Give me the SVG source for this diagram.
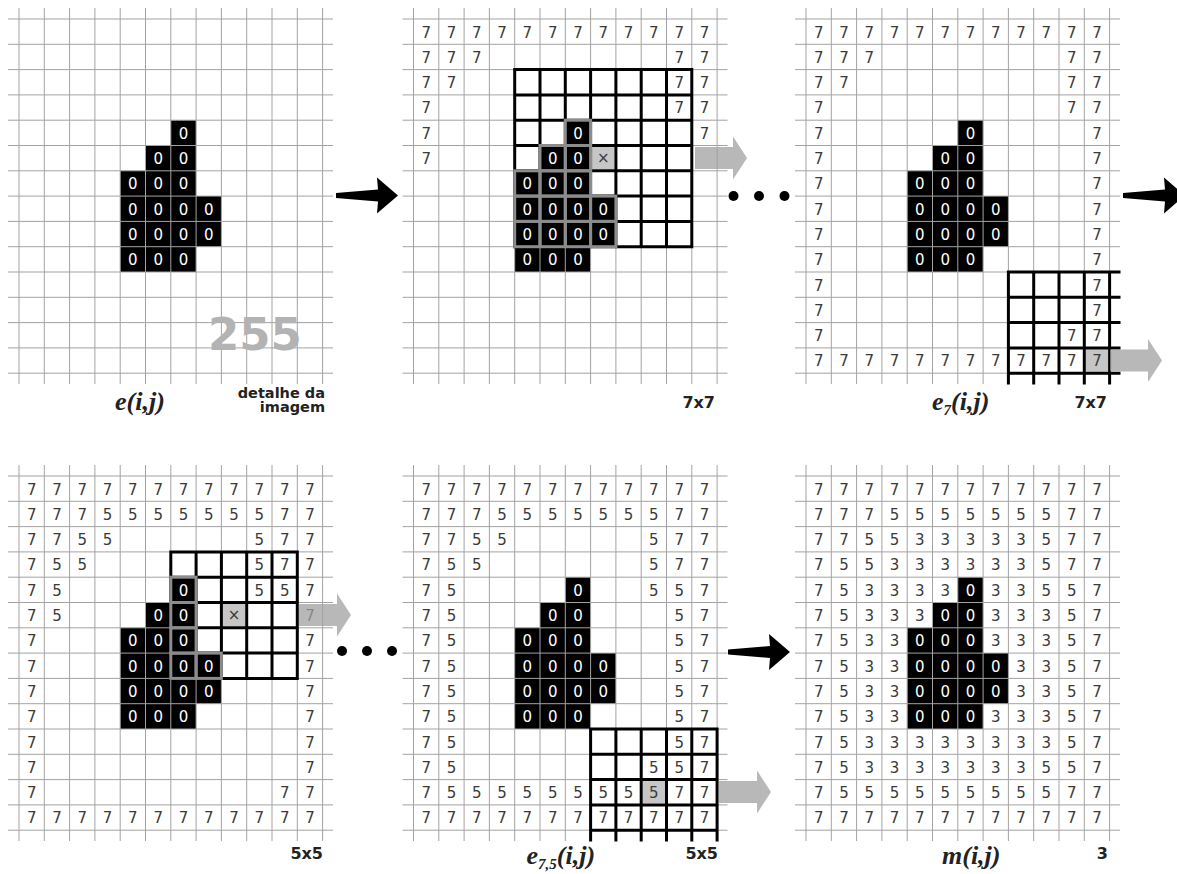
<svg xmlns="http://www.w3.org/2000/svg" xmlns:xlink="http://www.w3.org/1999/xlink" width="1177" height="874" viewBox="0 0 1177 874">
<defs>
<style>
.g{fill:none;stroke:#a3a3a3;stroke-width:1}
.w{fill:none;stroke:#000;stroke-width:3;stroke-linecap:square}
.gs{fill:none;stroke:#8c8c8c;stroke-width:3}
.n{font-family:"DejaVu Sans",Verdana,sans-serif;font-size:15px;fill:#3a3a3a;text-anchor:middle}
.z{font-family:"DejaVu Sans",Verdana,sans-serif;font-size:15px;fill:#fff;text-anchor:middle}
.lb{font-family:"DejaVu Sans",Verdana,sans-serif;font-weight:bold;font-size:14.5px;fill:#222;text-anchor:end}
.lb2{font-family:"DejaVu Sans",Verdana,sans-serif;font-weight:bold;font-size:16px;fill:#222;text-anchor:end}
.it{font-family:"Liberation Serif","Times New Roman",serif;font-style:italic;font-weight:bold;font-size:26px;fill:#222}
.obj{fill:#000}
.ctr{fill:#c6c6c6}
.wb{fill:#fff}
.ga{fill:#a0a0a0;opacity:.75}
.ba{fill:#000}
</style>
<path id="grid" class="g" d="M-11 0H314M-11 25.3H314M-11 50.6H314M-11 75.9H314M-11 101.2H314M-11 126.5H314M-11 151.8H314M-11 177.1H314M-11 202.4H314M-11 227.7H314M-11 253H314M-11 278.3H314M-11 303.6H314M-11 328.9H314M-11 354.2H314M0 -11V365M25.3 -11V365M50.6 -11V365M75.9 -11V365M101.2 -11V365M126.5 -11V365M151.8 -11V365M177.1 -11V365M202.4 -11V365M227.7 -11V365M253 -11V365M278.3 -11V365M303.6 -11V365"/>
<path id="obj" class="obj" d="M151.8 101.2H177.1V177.1H202.4V227.7H177.1V253H101.2V151.8H126.5V126.5H151.8Z"/>
<path id="garr" d="M0 -11H38V-21.5L52 0L38 21.5V11H0Z"/>
<path id="barr" d="M0 -2.5L42 -6L41 -18L62 0L41 18L42 6L0 2.5Z"/>
</defs>
<rect width="1177" height="874" fill="#fff"/>

<g id="panelA" transform="translate(19,19)">
<use href="#obj"/>
<use href="#grid"/>
<text class="z" x="164.45" y="119.7">0</text>
<text class="z" x="139.15 164.45" y="145">00</text>
<text class="z" x="113.85 139.15 164.45" y="170.3">000</text>
<text class="z" x="113.85 139.15 164.45 189.75" y="195.6">0000</text>
<text class="z" x="113.85 139.15 164.45 189.75" y="220.9">0000</text>
<text class="z" x="113.85 139.15 164.45" y="246.2">000</text>
<text x="189" y="331" style="font-family:'DejaVu Sans',Verdana,sans-serif;font-weight:bold;font-size:45px;fill:#b3b3b3">255</text>
<text class="it" x="96" y="391">e(i,j)</text>
<text class="lb" x="306" y="379">detalhe da</text>
<text class="lb" x="306" y="393">imagem</text>
</g>

<g id="panelB" transform="translate(413.5,19)">
<use href="#obj"/>
<use href="#grid"/>
<rect class="wb" x="101.2" y="50.6" width="177.1" height="177.1"/>
<path class="obj" d="M151.8 101.2H177.1V177.1H202.4V227.7H101.2V151.8H126.5V126.5H151.8Z"/>
<rect class="ctr" x="178.6" y="128" width="22.3" height="22.3"/>
<path class="w" d="M101.2 50.6V227.7M126.5 50.6V227.7M151.8 50.6V227.7M177.1 50.6V227.7M202.4 50.6V227.7M227.7 50.6V227.7M253 50.6V227.7M278.3 50.6V227.7M101.2 50.6H278.3M101.2 75.9H278.3M101.2 101.2H278.3M101.2 126.5H278.3M101.2 151.8H278.3M101.2 177.1H278.3M101.2 202.4H278.3M101.2 227.7H278.3"/>
<g class="gs">
<rect x="151.8" y="101.2" width="25.3" height="25.3"/>
<rect x="126.5" y="126.5" width="25.3" height="25.3"/><rect x="151.8" y="126.5" width="25.3" height="25.3"/>
<rect x="101.2" y="151.8" width="25.3" height="25.3"/><rect x="126.5" y="151.8" width="25.3" height="25.3"/><rect x="151.8" y="151.8" width="25.3" height="25.3"/>
<rect x="101.2" y="177.1" width="25.3" height="25.3"/><rect x="126.5" y="177.1" width="25.3" height="25.3"/><rect x="151.8" y="177.1" width="25.3" height="25.3"/><rect x="177.1" y="177.1" width="25.3" height="25.3"/>
<rect x="101.2" y="202.4" width="25.3" height="25.3"/><rect x="126.5" y="202.4" width="25.3" height="25.3"/><rect x="151.8" y="202.4" width="25.3" height="25.3"/><rect x="177.1" y="202.4" width="25.3" height="25.3"/>
</g>
<text class="n" x="189.75" y="144">×</text>
<text class="n" x="12.65 37.95 63.25 88.55 113.85 139.15 164.45 189.75 215.05 240.35 265.65 290.95" y="18.5">777777777777</text>
<text class="n" x="12.65 37.95 63.25" y="43.8">777</text><text class="n" x="265.65 290.95" y="43.8">77</text>
<text class="n" x="12.65 37.95" y="69.1">77</text><text class="n" x="265.65 290.95" y="69.1">77</text>
<text class="n" x="12.65" y="94.4">7</text><text class="n" x="265.65 290.95" y="94.4">77</text>
<text class="n" x="12.65" y="119.7">7</text><text class="n" x="290.95" y="119.7">7</text>
<text class="n" x="12.65" y="145">7</text>
<text class="z" x="164.45" y="119.7">0</text>
<text class="z" x="139.15 164.45" y="145">00</text>
<text class="z" x="113.85 139.15 164.45" y="170.3">000</text>
<text class="z" x="113.85 139.15 164.45 189.75" y="195.6">0000</text>
<text class="z" x="113.85 139.15 164.45 189.75" y="220.9">0000</text>
<text class="z" x="113.85 139.15 164.45" y="246.2">000</text>
<text class="lb2" x="301.5" y="389">7x7</text>
</g>

<g id="panelC" transform="translate(806,19)">
<use href="#obj"/>
<use href="#grid"/>
<rect class="wb" x="202.4" y="253" width="101.2" height="101.2"/>
<rect class="ctr" x="279.8" y="330.4" width="22.3" height="22.3"/>
<path class="w" d="M202.4 253V364M227.7 253V364M253 253V364M278.3 253V364M303.6 253V364M202.4 253H313M202.4 278.3H313M202.4 303.6H313M202.4 328.9H313M202.4 354.2H313"/>
<text class="n" x="12.65 37.95 63.25 88.55 113.85 139.15 164.45 189.75 215.05 240.35 265.65 290.95" y="18.5">777777777777</text>
<text class="n" x="12.65 37.95 63.25" y="43.8">777</text><text class="n" x="265.65 290.95" y="43.8">77</text>
<text class="n" x="12.65 37.95" y="69.1">77</text><text class="n" x="265.65 290.95" y="69.1">77</text>
<text class="n" x="12.65" y="94.4">7</text><text class="n" x="265.65 290.95" y="94.4">77</text>
<text class="n" x="12.65" y="119.7">7</text><text class="n" x="290.95" y="119.7">7</text>
<text class="n" x="12.65" y="145">7</text><text class="n" x="290.95" y="145">7</text>
<text class="n" x="12.65" y="170.3">7</text><text class="n" x="290.95" y="170.3">7</text>
<text class="n" x="12.65" y="195.6">7</text><text class="n" x="290.95" y="195.6">7</text>
<text class="n" x="12.65" y="220.9">7</text><text class="n" x="290.95" y="220.9">7</text>
<text class="n" x="12.65" y="246.2">7</text><text class="n" x="290.95" y="246.2">7</text>
<text class="n" x="12.65" y="271.5">7</text><text class="n" x="290.95" y="271.5">7</text>
<text class="n" x="12.65" y="296.8">7</text><text class="n" x="290.95" y="296.8">7</text>
<text class="n" x="12.65" y="322.1">7</text><text class="n" x="265.65 290.95" y="322.1">77</text>
<text class="n" x="12.65 37.95 63.25 88.55 113.85 139.15 164.45 189.75 215.05 240.35 265.65 290.95" y="347.4">777777777777</text>
<text class="z" x="164.45" y="119.7">0</text>
<text class="z" x="139.15 164.45" y="145">00</text>
<text class="z" x="113.85 139.15 164.45" y="170.3">000</text>
<text class="z" x="113.85 139.15 164.45 189.75" y="195.6">0000</text>
<text class="z" x="113.85 139.15 164.45 189.75" y="220.9">0000</text>
<text class="z" x="113.85 139.15 164.45" y="246.2">000</text>
<text class="it" x="126" y="391">e<tspan style="font-size:15px" dy="5">7</tspan><tspan dy="-5">(i,j)</tspan></text>
<text class="lb2" x="301" y="389">7x7</text>
</g>

<g id="panelD" transform="translate(19,476)">
<use href="#obj"/>
<use href="#grid"/>
<rect class="wb" x="151.8" y="75.9" width="126.5" height="126.5"/>
<path class="obj" d="M151.8 101.2H177.1V177.1H202.4V202.4H151.8Z"/>
<rect class="ctr" x="203.9" y="128" width="22.3" height="22.3"/>
<path class="w" d="M151.8 75.9V202.4M177.1 75.9V202.4M202.4 75.9V202.4M227.7 75.9V202.4M253 75.9V202.4M278.3 75.9V202.4M151.8 75.9H278.3M151.8 101.2H278.3M151.8 126.5H278.3M151.8 151.8H278.3M151.8 177.1H278.3M151.8 202.4H278.3"/>
<g class="gs">
<rect x="151.8" y="101.2" width="25.3" height="25.3"/><rect x="151.8" y="126.5" width="25.3" height="25.3"/><rect x="151.8" y="151.8" width="25.3" height="25.3"/><rect x="151.8" y="177.1" width="25.3" height="25.3"/><rect x="177.1" y="177.1" width="25.3" height="25.3"/>
</g>
<text class="n" x="215.05" y="144">×</text>
<text class="n" x="12.65 37.95 63.25 88.55 113.85 139.15 164.45 189.75 215.05 240.35 265.65 290.95" y="18.5">777777777777</text>
<text class="n" x="12.65 37.95 63.25 88.55 113.85 139.15 164.45 189.75 215.05 240.35 265.65 290.95" y="43.8">777555555577</text>
<text class="n" x="12.65 37.95 63.25 88.55" y="69.1">7755</text><text class="n" x="240.35 265.65 290.95" y="69.1">577</text>
<text class="n" x="12.65 37.95 63.25" y="94.4">755</text><text class="n" x="240.35 265.65 290.95" y="94.4">577</text>
<text class="n" x="12.65 37.95" y="119.7">75</text><text class="n" x="240.35 265.65 290.95" y="119.7">557</text>
<text class="n" x="12.65 37.95" y="145">75</text><text class="n" x="290.95" y="145">7</text>
<text class="n" x="12.65" y="170.3">7</text><text class="n" x="290.95" y="170.3">7</text>
<text class="n" x="12.65" y="195.6">7</text><text class="n" x="290.95" y="195.6">7</text>
<text class="n" x="12.65" y="220.9">7</text><text class="n" x="290.95" y="220.9">7</text>
<text class="n" x="12.65" y="246.2">7</text><text class="n" x="290.95" y="246.2">7</text>
<text class="n" x="12.65" y="271.5">7</text><text class="n" x="290.95" y="271.5">7</text>
<text class="n" x="12.65" y="296.8">7</text><text class="n" x="290.95" y="296.8">7</text>
<text class="n" x="12.65" y="322.1">7</text><text class="n" x="265.65 290.95" y="322.1">77</text>
<text class="n" x="12.65 37.95 63.25 88.55 113.85 139.15 164.45 189.75 215.05 240.35 265.65 290.95" y="347.4">777777777777</text>
<text class="z" x="164.45" y="119.7">0</text>
<text class="z" x="139.15 164.45" y="145">00</text>
<text class="z" x="113.85 139.15 164.45" y="170.3">000</text>
<text class="z" x="113.85 139.15 164.45 189.75" y="195.6">0000</text>
<text class="z" x="113.85 139.15 164.45 189.75" y="220.9">0000</text>
<text class="z" x="113.85 139.15 164.45" y="246.2">000</text>
<text class="lb2" x="304" y="383">5x5</text>
</g>

<g id="panelE" transform="translate(413.5,476)">
<use href="#obj"/>
<use href="#grid"/>
<rect class="wb" x="177.1" y="253" width="126.5" height="101.2"/>
<rect class="ctr" x="229.2" y="305.1" width="22.3" height="22.3"/>
<path class="w" d="M177.1 253V364M202.4 253V364M227.7 253V364M253 253V364M278.3 253V364M303.6 253V364M177.1 253H303.6M177.1 278.3H303.6M177.1 303.6H303.6M177.1 328.9H303.6M177.1 354.2H303.6"/>
<text class="n" x="12.65 37.95 63.25 88.55 113.85 139.15 164.45 189.75 215.05 240.35 265.65 290.95" y="18.5">777777777777</text>
<text class="n" x="12.65 37.95 63.25 88.55 113.85 139.15 164.45 189.75 215.05 240.35 265.65 290.95" y="43.8">777555555577</text>
<text class="n" x="12.65 37.95 63.25 88.55" y="69.1">7755</text><text class="n" x="240.35 265.65 290.95" y="69.1">577</text>
<text class="n" x="12.65 37.95 63.25" y="94.4">755</text><text class="n" x="240.35 265.65 290.95" y="94.4">577</text>
<text class="n" x="12.65 37.95" y="119.7">75</text><text class="n" x="240.35 265.65 290.95" y="119.7">557</text>
<text class="n" x="12.65 37.95" y="145">75</text><text class="n" x="265.65 290.95" y="145">57</text>
<text class="n" x="12.65 37.95" y="170.3">75</text><text class="n" x="265.65 290.95" y="170.3">57</text>
<text class="n" x="12.65 37.95" y="195.6">75</text><text class="n" x="265.65 290.95" y="195.6">57</text>
<text class="n" x="12.65 37.95" y="220.9">75</text><text class="n" x="265.65 290.95" y="220.9">57</text>
<text class="n" x="12.65 37.95" y="246.2">75</text><text class="n" x="265.65 290.95" y="246.2">57</text>
<text class="n" x="12.65 37.95" y="271.5">75</text><text class="n" x="265.65 290.95" y="271.5">57</text>
<text class="n" x="12.65 37.95" y="296.8">75</text><text class="n" x="240.35 265.65 290.95" y="296.8">557</text>
<text class="n" x="12.65 37.95 63.25 88.55 113.85 139.15 164.45 189.75 215.05 240.35 265.65 290.95" y="322.1">755555555577</text>
<text class="n" x="12.65 37.95 63.25 88.55 113.85 139.15 164.45 189.75 215.05 240.35 265.65 290.95" y="347.4">777777777777</text>
<text class="z" x="164.45" y="119.7">0</text>
<text class="z" x="139.15 164.45" y="145">00</text>
<text class="z" x="113.85 139.15 164.45" y="170.3">000</text>
<text class="z" x="113.85 139.15 164.45 189.75" y="195.6">0000</text>
<text class="z" x="113.85 139.15 164.45 189.75" y="220.9">0000</text>
<text class="z" x="113.85 139.15 164.45" y="246.2">000</text>
<text class="it" x="113" y="388">e<tspan style="font-size:15px" dy="5">7,5</tspan><tspan dy="-5">(i,j)</tspan></text>
<text class="lb2" x="304.5" y="383">5x5</text>
</g>

<g id="panelF" transform="translate(806,476)">
<use href="#obj"/>
<use href="#grid"/>
<text class="n" x="12.65 37.95 63.25 88.55 113.85 139.15 164.45 189.75 215.05 240.35 265.65 290.95" y="18.5">777777777777</text>
<text class="n" x="12.65 37.95 63.25 88.55 113.85 139.15 164.45 189.75 215.05 240.35 265.65 290.95" y="43.8">777555555577</text>
<text class="n" x="12.65 37.95 63.25 88.55 113.85 139.15 164.45 189.75 215.05 240.35 265.65 290.95" y="69.1">775533333577</text>
<text class="n" x="12.65 37.95 63.25 88.55 113.85 139.15 164.45 189.75 215.05 240.35 265.65 290.95" y="94.4">755333333577</text>
<text class="n" x="12.65 37.95 63.25 88.55 113.85 139.15" y="119.7">753333</text><text class="n" x="189.75 215.05 240.35 265.65 290.95" y="119.7">33557</text>
<text class="n" x="12.65 37.95 63.25 88.55 113.85" y="145">75333</text><text class="n" x="189.75 215.05 240.35 265.65 290.95" y="145">33357</text>
<text class="n" x="12.65 37.95 63.25 88.55" y="170.3">7533</text><text class="n" x="189.75 215.05 240.35 265.65 290.95" y="170.3">33357</text>
<text class="n" x="12.65 37.95 63.25 88.55" y="195.6">7533</text><text class="n" x="215.05 240.35 265.65 290.95" y="195.6">3357</text>
<text class="n" x="12.65 37.95 63.25 88.55" y="220.9">7533</text><text class="n" x="215.05 240.35 265.65 290.95" y="220.9">3357</text>
<text class="n" x="12.65 37.95 63.25 88.55" y="246.2">7533</text><text class="n" x="189.75 215.05 240.35 265.65 290.95" y="246.2">33357</text>
<text class="n" x="12.65 37.95 63.25 88.55 113.85 139.15 164.45 189.75 215.05 240.35 265.65 290.95" y="271.5">753333333357</text>
<text class="n" x="12.65 37.95 63.25 88.55 113.85 139.15 164.45 189.75 215.05 240.35 265.65 290.95" y="296.8">753333333557</text>
<text class="n" x="12.65 37.95 63.25 88.55 113.85 139.15 164.45 189.75 215.05 240.35 265.65 290.95" y="322.1">755555555577</text>
<text class="n" x="12.65 37.95 63.25 88.55 113.85 139.15 164.45 189.75 215.05 240.35 265.65 290.95" y="347.4">777777777777</text>
<text class="z" x="164.45" y="119.7">0</text>
<text class="z" x="139.15 164.45" y="145">00</text>
<text class="z" x="113.85 139.15 164.45" y="170.3">000</text>
<text class="z" x="113.85 139.15 164.45 189.75" y="195.6">0000</text>
<text class="z" x="113.85 139.15 164.45 189.75" y="220.9">0000</text>
<text class="z" x="113.85 139.15 164.45" y="246.2">000</text>
<text class="it" x="136" y="388">m(i,j)</text>
<text class="lb2" x="302" y="383">3</text>
</g>

<g id="connectors">
<use href="#barr" class="ba" x="336" y="195.5"/>
<use href="#barr" class="ba" x="1123" y="195.5"/>
<use href="#barr" class="ba" x="728" y="652"/>
<use href="#garr" class="ga" x="695" y="158"/>
<use href="#garr" class="ga" x="1110" y="360.5"/>
<use href="#garr" class="ga" x="299" y="615"/>
<use href="#garr" class="ga" x="719" y="792"/>
<circle cx="733.5" cy="196" r="5"/>
<circle cx="759" cy="196" r="5"/>
<circle cx="784.5" cy="196" r="5"/>
<circle cx="342" cy="651" r="5"/>
<circle cx="367" cy="651" r="5"/>
<circle cx="392" cy="651" r="5"/>
</g>
</svg>
